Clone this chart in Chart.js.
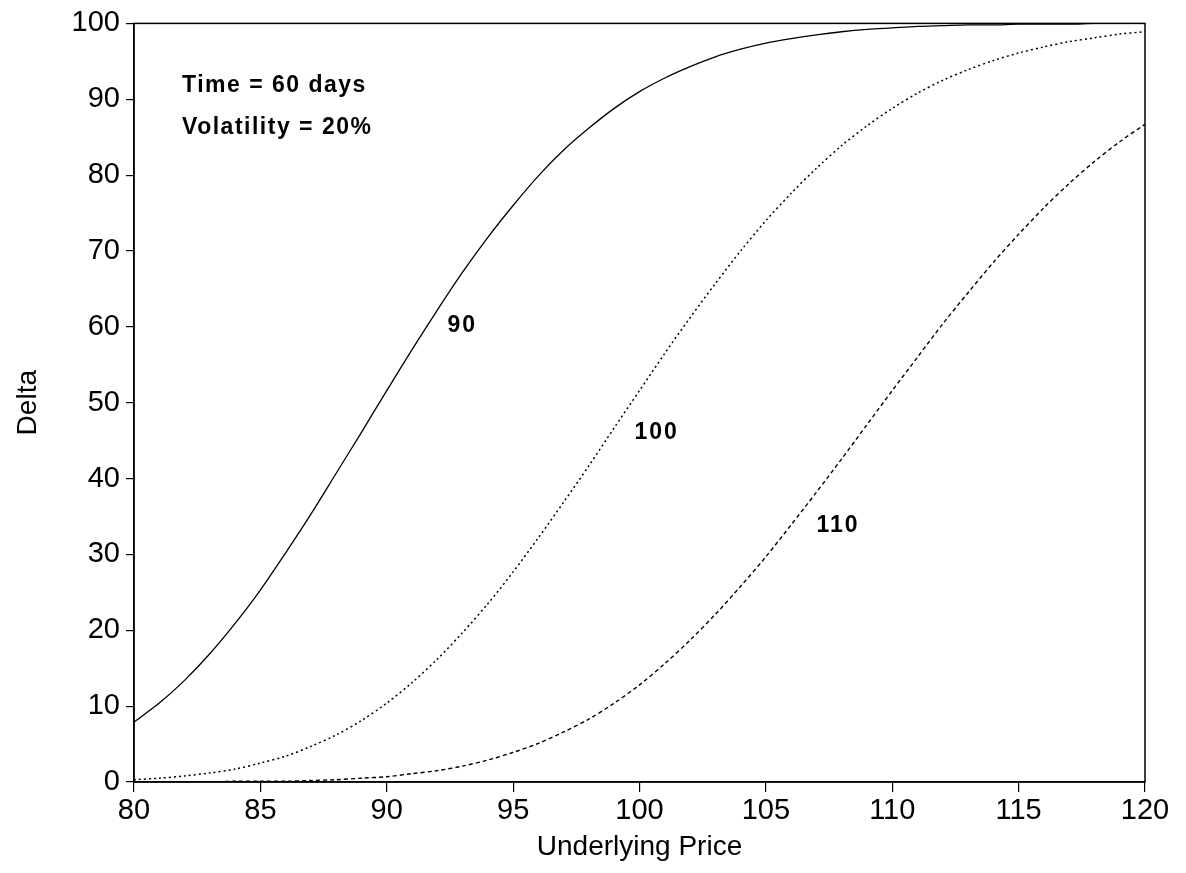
<!DOCTYPE html>
<html>
<head>
<meta charset="utf-8">
<title>Delta vs Underlying Price</title>
<script src="https://cdn.jsdelivr.net/npm/chart.js@4"></script>
<style>
  html, body { margin: 0; padding: 0; background: #fff; }
  #wrap { width: 1186px; height: 873px; }
</style>
</head>
<body>
<div id="wrap"><canvas id="deltaChart" width="1186" height="873"></canvas></div>
<script>
// underlying price (x) and delta (%)
const prices = [80,81,82,83,84,85,86,87,88,89,90,91,92,93,94,95,96,97,98,99,100,
                101,102,103,104,105,106,107,108,109,110,111,112,113,114,115,116,117,118,119,120];
const delta90 = [7.9,10.4,13.4,16.9,20.9,25.3,30.2,35.3,40.7,46.1,51.6,57.0,62.2,67.2,71.8,76.0,79.9,83.3,86.2,88.8,91.0,
                 92.8,94.3,95.6,96.6,97.4,98.0,98.5,98.9,99.2,99.4,99.6,99.7,99.8,99.8,99.9,99.9,99.9,100,100,100];
const delta100 = [0.3,0.5,0.8,1.2,1.7,2.5,3.4,4.7,6.2,8.1,10.4,13.1,16.2,19.7,23.5,27.7,32.2,36.9,41.7,46.7,51.6,
                  56.5,61.2,65.7,70.0,74.0,77.6,80.9,83.9,86.5,88.8,90.8,92.5,93.9,95.1,96.1,96.9,97.6,98.1,98.6,98.9];
const delta110 = [0,0,0,0,0.1,0.1,0.1,0.2,0.3,0.5,0.7,1.1,1.5,2.1,2.9,3.9,5.1,6.6,8.3,10.4,12.8,
                  15.6,18.7,22.1,25.8,29.7,33.9,38.2,42.6,47.1,51.6,56.0,60.4,64.5,68.5,72.2,75.7,78.9,81.8,84.4,86.7];
const strikeLabels = ["90", "100", "110"];
const noteLines = ["Time = 60 days", "Volatility = 20%"];
const xTicks = [80, 85, 90, 95, 100, 105, 110, 115, 120];
const yTicks = [0, 10, 20, 30, 40, 50, 60, 70, 80, 90, 100];

const FONT = '"Liberation Sans", Arial, Helvetica, sans-serif';

function pts(ys) {
    return prices.map((p, i) => ({ x: p, y: ys[i] }));
}

// frame around the plot + the text notes
const frameAndNotes = {
    id: 'frameAndNotes',
    afterDatasetsDraw(chart) {
        const { ctx, chartArea: a, scales: { x, y } } = chart;
        ctx.save();
        ctx.strokeStyle = '#000';
        ctx.lineWidth = 1.5;
        ctx.strokeRect(a.left, a.top, a.right - a.left, a.bottom - a.top);

        ctx.fillStyle = '#000';
        ctx.textAlign = 'left';
        ctx.textBaseline = 'middle';
        ctx.letterSpacing = '1.5px';
        ctx.font = '600 23px ' + FONT;
        ctx.fillText(noteLines[0], x.getPixelForValue(81.9), y.getPixelForValue(91.8));
        ctx.fillText(noteLines[1], x.getPixelForValue(81.9), y.getPixelForValue(86.2));

        ctx.letterSpacing = '2px';
        ctx.font = 'bold 23px ' + FONT;
        ctx.fillText(strikeLabels[0], x.getPixelForValue(92.4), y.getPixelForValue(60.2));
        ctx.fillText(strikeLabels[1], x.getPixelForValue(99.8), y.getPixelForValue(46.0));
        ctx.fillText(strikeLabels[2], x.getPixelForValue(107.0), y.getPixelForValue(33.8));
        ctx.restore();
    }
};

const ctx = document.getElementById('deltaChart').getContext('2d');
new Chart(ctx, {
    type: 'line',
    data: {
        datasets: [
            { label: strikeLabels[0], data: pts(delta90), borderColor: '#000', borderWidth: 1.3,
              pointRadius: 0, tension: 0.3, fill: false },
            { label: strikeLabels[1], data: pts(delta100), borderColor: '#000', borderWidth: 1.5,
              borderDash: [2, 3], pointRadius: 0, tension: 0.3, fill: false },
            { label: strikeLabels[2], data: pts(delta110), borderColor: '#000', borderWidth: 1.4,
              borderDash: [4, 3], pointRadius: 0, tension: 0.3, fill: false }
        ]
    },
    options: {
        responsive: false,
        animation: false,
        layout: { padding: { top: 20, right: 41, left: 0, bottom: 0 } },
        plugins: {
            legend: { display: false },
            tooltip: { enabled: false }
        },
        scales: {
            x: {
                type: 'linear',
                min: 80, max: 120,
                afterFit: (s) => { s.height = 91; },
                afterBuildTicks: (s) => { s.ticks = xTicks.map(v => ({ value: v })); },
                grid: { display: true, drawOnChartArea: false, drawTicks: true, tickLength: 10, color: '#000', lineWidth: 1.2 },
                border: { display: true, color: '#000', width: 1.5 },
                ticks: { color: '#000', font: { family: FONT, size: 29 }, padding: 2, maxRotation: 0 },
                title: { display: true, text: 'Underlying Price', color: '#000',
                         font: { family: FONT, size: 28 }, padding: { top: 0, bottom: 9 } }
            },
            y: {
                min: 0, max: 100,
                afterFit: (s) => { s.width = 134; },
                afterBuildTicks: (s) => { s.ticks = yTicks.map(v => ({ value: v })); },
                grid: { display: true, drawOnChartArea: false, drawTicks: true, tickLength: 8, color: '#000', lineWidth: 1.2 },
                border: { display: true, color: '#000', width: 1.5 },
                ticks: { color: '#000', font: { family: FONT, size: 29 }, padding: 6 },
                title: { display: true, text: 'Delta', color: '#000',
                         font: { family: FONT, size: 28 }, padding: { top: 11, bottom: 0 } }
            }
        }
    },
    plugins: [frameAndNotes]
});
</script>
</body>
</html>
